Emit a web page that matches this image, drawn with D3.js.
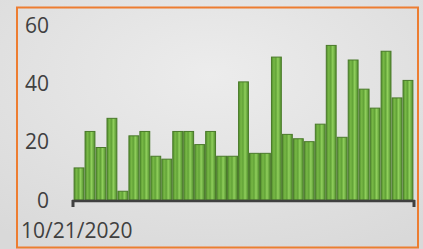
<!DOCTYPE html>
<html>
<head>
<meta charset="utf-8">
<script src="https://cdn.jsdelivr.net/npm/d3@7"></script>
<style>
  html, body { margin: 0; padding: 0; background: #e4e4e4; }
  svg { display: block; }
</style>
</head>
<body>
<script>
var days = ['10/21/2020', '10/22/2020', '10/23/2020', '10/24/2020', '10/25/2020', '10/26/2020',
  '10/27/2020', '10/28/2020', '10/29/2020', '10/30/2020', '10/31/2020', '11/1/2020',
  '11/2/2020', '11/3/2020', '11/4/2020', '11/5/2020', '11/6/2020', '11/7/2020',
  '11/8/2020', '11/9/2020', '11/10/2020', '11/11/2020', '11/12/2020', '11/13/2020',
  '11/14/2020', '11/15/2020', '11/16/2020', '11/17/2020', '11/18/2020', '11/19/2020',
  '11/20/2020'];
var counts = [11, 23.5, 18, 28, 3, 22, 23.5, 15, 14, 23.5, 23.5, 19, 23.5, 15, 15, 40.5,
  16, 16, 49, 22.5, 21, 20, 26, 53, 21.5, 48, 38, 31.5, 51, 35, 41];
var yTicks = [0, 20, 40, 60];
var xTickLabels = ['10/21/2020'];

var width = 423, height = 249;

var svg = d3.select('body').append('svg')
  .attr('width', width)
  .attr('height', height);

var defs = svg.append('defs');

// soft grey backdrop
var bg = defs.append('radialGradient').attr('id', 'bg')
  .attr('cx', '50%').attr('cy', '30%').attr('r', '80%');
bg.append('stop').attr('offset', '0%').attr('stop-color', '#ececec');
bg.append('stop').attr('offset', '100%').attr('stop-color', '#d9d9d9');

// cylinder-ish shading for the bars
var barGrad = defs.append('linearGradient').attr('id', 'bar')
  .attr('x1', '0%').attr('x2', '100%').attr('y1', '0%').attr('y2', '0%');
[['0%', '#4f8c2b'], ['25%', '#78b846'], ['45%', '#62a337'], ['65%', '#90cf5c'], ['100%', '#4f8c2b']]
  .forEach(function (s) {
    barGrad.append('stop').attr('offset', s[0]).attr('stop-color', s[1]);
  });

svg.append('rect')
  .attr('width', width).attr('height', height)
  .attr('fill', 'url(#bg)');

// orange frame
svg.append('rect')
  .attr('x', 17).attr('y', 7.5)
  .attr('width', 401).attr('height', 240)
  .attr('fill', 'none')
  .attr('stroke', '#ed7d31')
  .attr('stroke-width', 2);

var x = d3.scaleBand()
  .domain(days)
  .range([73, 414])
  .paddingInner(0.1)
  .paddingOuter(0.1);

var y = d3.scaleLinear()
  .domain([0, 60])
  .range([200, 25]);

svg.selectAll('.bar')
  .data(counts)
  .enter()
  .append('rect')
    .attr('class', 'bar')
    .attr('x', function (d, i) { return x(days[i]); })
    .attr('width', x.bandwidth())
    .attr('y', function (d) { return y(d); })
    .attr('height', function (d) { return y(0) - y(d); })
    .attr('fill', 'url(#bar)')
    .attr('stroke', '#4a7a2a')
    .attr('stroke-width', 1);

// y labels
svg.selectAll('.ylab')
  .data(yTicks)
  .enter()
  .append('text')
    .attr('class', 'ylab')
    .attr('x', 49)
    .attr('y', function (d) { return y(d); })
    .attr('dy', '0.36em')
    .attr('text-anchor', 'end')
    .attr('font-family', 'Open Sans, sans-serif')
    .attr('font-size', 21)
    .attr('fill', '#404040')
    .text(function (d) { return d; });

// x axis line with end ticks
svg.append('line')
  .attr('x1', x.range()[0] - 1).attr('x2', x.range()[1] + 1)
  .attr('y1', y(0) + 1).attr('y2', y(0) + 1)
  .attr('stroke', '#404040')
  .attr('stroke-width', 2.5);

svg.selectAll('.xtick')
  .data(x.range())
  .enter()
  .append('rect')
    .attr('class', 'xtick')
    .attr('x', function (d) { return d - 1.5; })
    .attr('y', y(0))
    .attr('width', 3)
    .attr('height', 7)
    .attr('fill', '#404040');

svg.selectAll('.xlab')
  .data(xTickLabels)
  .enter()
  .append('text')
    .attr('class', 'xlab')
    .attr('x', 21)
    .attr('y', 238)
    .attr('font-family', 'Open Sans, sans-serif')
    .attr('font-size', 21)
    .attr('fill', '#404040')
    .text(function (d) { return d; });
</script>
</body>
</html>
